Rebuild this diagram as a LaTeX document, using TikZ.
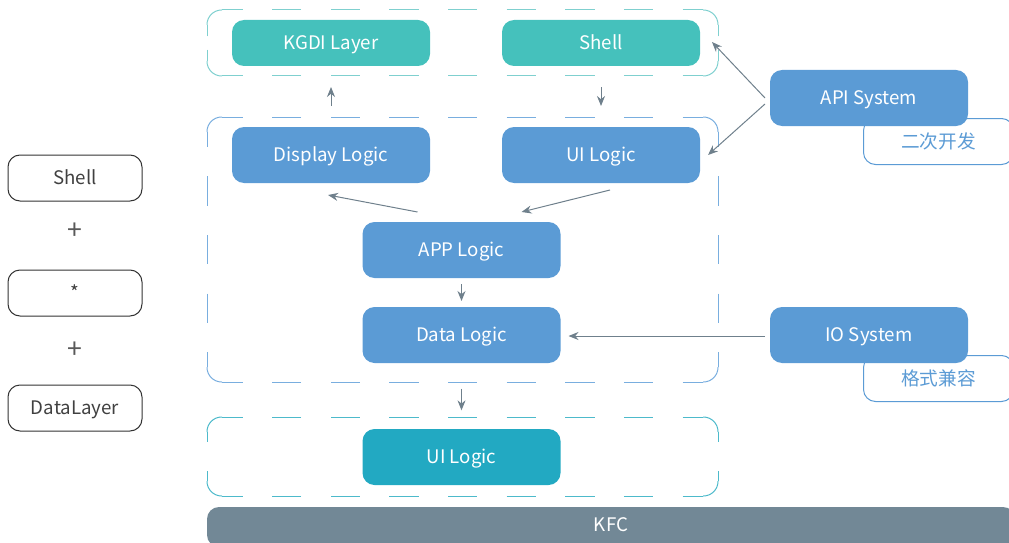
\documentclass[tikz,border=0pt]{standalone}
\usepackage{fontspec}
\setmainfont{Noto Sans CJK SC}
\usetikzlibrary{arrows.meta,calc}
\definecolor{tealbox}{HTML}{45C1BC}
\definecolor{bluebox}{HTML}{5B9BD5}
\definecolor{uibox}{HTML}{22A9C2}
\definecolor{kfcgray}{HTML}{728896}
\definecolor{arrowgray}{HTML}{6F808C}
\definecolor{dashteal}{HTML}{7FD0CF}
\definecolor{dashblue}{HTML}{79AEDF}
\definecolor{dashui}{HTML}{4DBACB}
\tikzset{
  label text/.style={font=\fontsize{14pt}{16pt}\selectfont,text height=12pt,text depth=2pt},
  box/.style={label text,rounded corners=9pt,inner sep=0pt,outer sep=0pt,text=white,
    minimum width=148.5pt,minimum height=42pt},
  flatbox/.style={box,minimum height=34.5pt},
  sidebox/.style={label text,draw=black!80,line width=0.75pt,rounded corners=9pt,inner sep=0pt,
    minimum width=100.5pt,minimum height=34.5pt,text=black!75},
  notebox/.style={label text,draw=bluebox,fill=white,line width=0.75pt,rounded corners=9pt,inner sep=0pt,
    minimum width=112.5pt,minimum height=34.5pt,text=bluebox},
  group/.style={inner sep=0pt,outer sep=0pt,minimum width=383.25pt},
  frame/.style={line width=0.75pt,dash pattern=on 22pt off 22pt,dash phase=11pt},
  flow/.style={draw=arrowgray,line width=0.75pt,-{Stealth[length=7.5pt,width=6pt]}}
}
% dashed frame round a layer node: solid corners, dashes laid out from the middle of each side
\newcommand{\layerframe}[3]{%
  \foreach \c/\dx/\dy in {north west/15/15, north east/-15/15, south west/15/-15, south east/-15/-15}
    \draw[#2,line width=0.75pt,rounded corners=11pt] ($(#1.\c)+(0,\dy)$) -- (#1.\c) -- ($(#1.\c)+(\dx,0)$);
  \foreach \m/\c/\dx in {north/north west/15, north/north east/-15, south/south west/15, south/south east/-15}
    \draw[#2,frame] (#1.\m) -- ($(#1.\c)+(\dx,0)$);
  \foreach \m/\c/\dy in {west/north west/15, west/south west/-15, east/north east/15, east/south east/-15}
    \draw[#2,frame,#3] (#1.\m) -- ($(#1.\c)+(0,\dy)$);
}
\begin{document}
\begin{tikzpicture}[x=0.75pt,y=-0.75pt]
\useasboundingbox (0,0) rectangle (1009,542);
\clip (0,0) rectangle (1009,542);
% layer frames
\node[group,minimum height=49.5pt] (grpTop) at (462.5,43) {};
\node[group,minimum height=198.75pt] (grpMid) at (462.5,249.5) {};
\node[group,minimum height=59.25pt] (grpBot) at (462.5,456.5) {};
\layerframe{grpTop}{dashteal}{dash pattern=on 22pt off 10pt,dash phase=27pt}
\layerframe{grpMid}{dashblue}{}
\layerframe{grpBot}{dashui}{dash phase=33pt}
% top layer
\node[flatbox,fill=tealbox] (kgdi) at (331,43) {KGDI Layer};
\node[flatbox,fill=tealbox] (shell) at (601,43) {Shell};
% logic layer
\node[box,fill=bluebox] (disp) at (331,155) {Display Logic};
\node[box,fill=bluebox] (ui) at (601,155) {UI Logic};
\node[box,fill=bluebox] (app) at (461.5,250) {APP Logic};
\node[box,fill=bluebox] (data) at (461.5,335) {Data Logic};
% bottom layer
\node[box,fill=uibox] (uiBot) at (461.5,457) {UI Logic};
\node[box,fill=kfcgray,minimum width=606pt,minimum height=30pt,anchor=north west] (kfc) at (207,507) {};
\node[label text,text=white] (kfcText) at (611,525) {KFC};
% systems
\node[notebox,anchor=north west] (apiNote) at (863,118) {二次开发};
\node[box,fill=bluebox] (api) at (869,98) {API System};
\node[notebox,anchor=north west] (ioNote) at (863,355) {格式兼容};
\node[box,fill=bluebox] (io) at (869,335) {IO System};
% legend
\node[sidebox] (lShell) at (75,178) {Shell};
\node[text=black!65,font=\fontsize{20pt}{20pt}\selectfont] (plusA) at (75,231) {+};
\node[sidebox] (lStar) at (75,293) {*};
\node[text=black!65,font=\fontsize{20pt}{20pt}\selectfont] (plusB) at (75,350) {+};
\node[sidebox] (lData) at (75,408) {DataLayer};
% connectors
\draw[flow,shorten <=8.25pt,shorten >=8.25pt] (disp.north |- grpMid.north) -- (disp.north |- grpTop.south);
\draw[flow,shorten <=8.25pt,shorten >=8.25pt] (shell.south |- grpTop.south) -- (shell.south |- grpMid.north);
\draw[flow] ($(app.north)+(-44,-10)$) -- ($(disp.south)+(-3,12)$);
\draw[flow] ($(ui.south)+(9,7)$) -- ($(app.north)+(60,-10)$);
\draw[flow,shorten <=4.5pt,shorten >=4.5pt] (app) -- (data);
\draw[flow,shorten <=5pt,shorten >=5pt] (data.south |- grpMid.south) -- (data.south |- grpBot.north);
\draw[flow] ($(io.west)+(-5,1)$) -- ($(data.east)+(8,1)$);
\draw[flow] ($(api.west)+(-5,0)$) -- ($(shell.east)+(12,-1)$);
\draw[flow] ($(api.west)+(-5,6)$) -- ($(ui.east)+(8,0)$);
\end{tikzpicture}
\end{document}
